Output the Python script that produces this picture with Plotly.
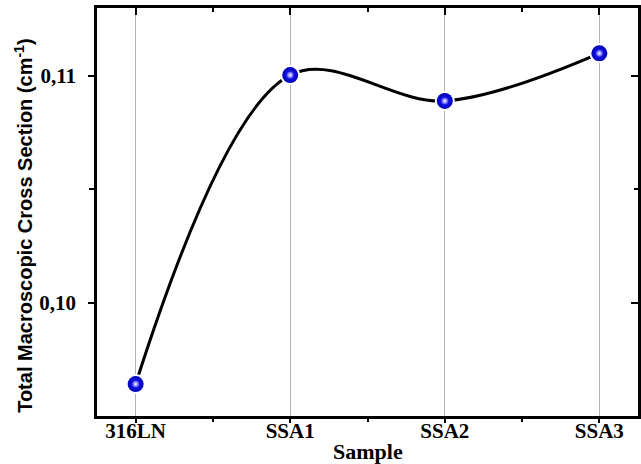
import plotly.graph_objects as go

samples = ["316LN", "SSA1", "SSA2", "SSA3"]
cross_section = [0.09641, 0.11004, 0.10890, 0.11100]
y_ticks = [0.10, 0.11]
y_minor = [0.105]
x_minor = [0.5, 1.5, 2.5]

xpos = list(range(len(samples)))
xr = [-0.25, 3.25]
yr = [0.095, 0.113]

fig = go.Figure()
fig.add_trace(go.Scatter(x=xpos, y=cross_section, mode='lines',
                         line=dict(shape='spline', smoothing=1, color='black', width=3),
                         hoverinfo='skip', showlegend=False))
fig.add_trace(go.Scatter(x=xpos, y=cross_section, mode='markers',
                         marker=dict(size=20, color='white', line=dict(width=0)),
                         hoverinfo='skip', showlegend=False))
fig.add_trace(go.Scatter(x=xpos, y=cross_section, mode='markers',
                         marker=dict(size=16, color='#0000b8', line=dict(width=0),
                                     gradient=dict(type='radial', color='#2020ff')),
                         showlegend=False))
fig.add_trace(go.Scatter(x=xpos, y=cross_section, mode='markers',
                         marker=dict(size=7, color='#3c3cff', line=dict(width=0),
                                     gradient=dict(type='radial', color='#ffffff')),
                         hoverinfo='skip', showlegend=False))
# invisible trace to host mirrored axes
fig.add_trace(go.Scatter(x=xpos, y=cross_section, mode='lines', xaxis='x2', yaxis='y2',
                         line=dict(width=0), opacity=0, hoverinfo='skip', showlegend=False))

tickfont = dict(family='Liberation Serif', size=21, color='black', weight='bold')

fig.update_layout(
    width=641, height=464,
    margin=dict(l=97, r=3, t=8, b=48),
    plot_bgcolor='white', paper_bgcolor='white',
    separators=',.',
    xaxis=dict(range=xr, tickvals=xpos, ticktext=samples, ticks='outside', ticklen=4,
               tickwidth=2, tickcolor='black', showline=True, linecolor='black', linewidth=2.5,
               showgrid=True, gridcolor='#b4b4b4', gridwidth=1, zeroline=False,
               tickfont=tickfont, ticklabelstandoff=-10,
               minor=dict(tickvals=x_minor, ticks='outside', ticklen=3, tickwidth=2,
                          tickcolor='black', showgrid=False)),
    yaxis=dict(range=yr, tickvals=y_ticks, tickformat='.2f', ticks='outside', ticklen=6,
               tickwidth=2, tickcolor='black', showline=True, linecolor='black', linewidth=2.5,
               showgrid=False, zeroline=False, tickfont=tickfont, ticklabelstandoff=8,
               minor=dict(tickvals=y_minor, ticks='outside', ticklen=5, tickwidth=2,
                          tickcolor='black', showgrid=False)),
    xaxis2=dict(overlaying='x', side='top', range=xr, tickvals=xpos, ticks='inside',
                ticklen=7, tickwidth=2, tickcolor='black', showticklabels=False,
                showline=True, linecolor='black', linewidth=2.5, showgrid=False, zeroline=False,
                minor=dict(tickvals=x_minor, ticks='inside', ticklen=4, tickwidth=2,
                           tickcolor='black', showgrid=False)),
    yaxis2=dict(overlaying='y', side='right', range=yr, tickvals=y_ticks, ticks='inside',
                ticklen=7, tickwidth=2, tickcolor='black', showticklabels=False,
                showline=True, linecolor='black', linewidth=2.5, showgrid=False, zeroline=False,
                minor=dict(tickvals=y_minor, ticks='inside', ticklen=4, tickwidth=2,
                           tickcolor='black', showgrid=False)),
    annotations=[
        dict(text='Total Macroscopic Cross Section (cm<sup>-1</sup>)', xref='paper', yref='paper',
             x=-0.135, y=0.466, xanchor='center', yanchor='middle', textangle=-90, showarrow=False,
             font=dict(family='Liberation Sans', size=20, color='black', weight='bold')),
        dict(text='Sample', xref='paper', yref='paper', x=0.5, y=-0.088,
             xanchor='center', yanchor='middle', showarrow=False,
             font=dict(family='Liberation Serif', size=22, color='black', weight='bold')),
    ],
)

fig.write_html("out.html", config={'displayModeBar': False},
               post_script="document.body.style.margin='0px';")
